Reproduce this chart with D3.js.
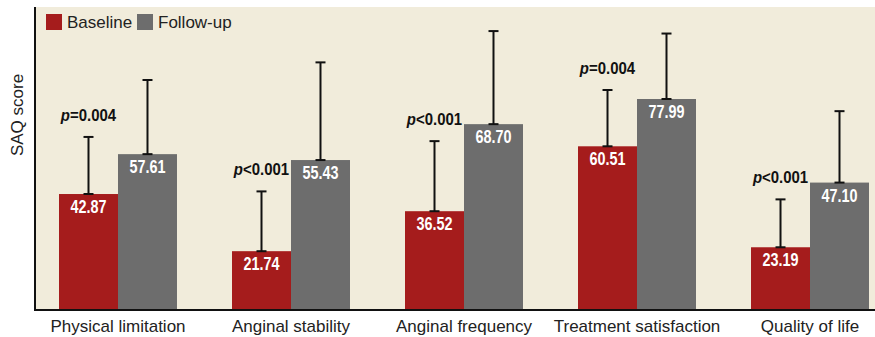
<!DOCTYPE html>
<html>
<head>
<meta charset="utf-8">
<script src="https://cdn.jsdelivr.net/npm/d3@7"></script>
<style>
    body { margin: 0; background: #fff; }
    #chart { width: 875px; height: 337px; }
    text { font-family: 'Liberation Sans', Arial, sans-serif; }
</style>
</head>
<body>
<div id="chart"></div>
<script>
// Data
var categories = ['Physical limitation', 'Anginal stability', 'Anginal frequency', 'Treatment satisfaction', 'Quality of life'];
var series = ['Baseline', 'Follow-up'];
var baseline = [42.87, 21.74, 36.52, 60.51, 23.19];
var followup = [57.61, 55.43, 68.70, 77.99, 47.10];
// standard deviations (upper whiskers only)
var baseline_sd = [21.1, 22.1, 25.9, 20.8, 17.7];
var followup_sd = [27.4, 36.1, 34.4, 24.2, 26.4];
var p_labels = ['=0.004', '<0.001', '<0.001', '=0.004', '<0.001'];

var colors = ['#a51c1c', '#6d6d6d'];

var margin = {top: 7, right: 0, bottom: 27, left: 35};
var chart_width = 875, chart_height = 337;
var width = chart_width - margin.left - margin.right;
var height = chart_height - margin.top - margin.bottom;

var svg = d3.select('#chart').append('svg')
    .attr('width', chart_width)
    .attr('height', chart_height)
    .append('g')
    .attr('transform', 'translate(' + margin.left + ',' + margin.top + ')');

// plot background
svg.append('rect')
    .attr('width', width)
    .attr('height', height)
    .attr('fill', '#f1ecdb');

var x0 = d3.scaleBand().domain(categories).range([24, 834]).paddingInner(0.318);
var x1 = d3.scaleBand().domain(series).range([0, x0.bandwidth()]);
var y = d3.scaleLinear().domain([0, 112]).range([height, 0]);

var data = categories.map(function(c, i) {
    return {
        cat: c,
        p: p_labels[i],
        vals: [
            {key: series[0], value: baseline[i], sd: baseline_sd[i]},
            {key: series[1], value: followup[i], sd: followup_sd[i]}
        ]
    };
});

var groups = svg.selectAll('g.group')
    .data(data)
    .enter().append('g')
    .attr('class', 'group')
    .attr('transform', function(d) { return 'translate(' + x0(d.cat) + ',0)'; });

var bars = groups.selectAll('g.bar')
    .data(function(d) { return d.vals; })
    .enter().append('g')
    .attr('class', 'bar');

bars.append('rect')
    .attr('x', function(d) { return x1(d.key); })
    .attr('y', function(d) { return y(d.value); })
    .attr('width', x1.bandwidth())
    .attr('height', function(d) { return height - y(d.value); })
    .attr('fill', function(d, i) { return colors[i]; });

// error bars
bars.append('line')
    .attr('x1', function(d) { return x1(d.key) + x1.bandwidth() / 2; })
    .attr('x2', function(d) { return x1(d.key) + x1.bandwidth() / 2; })
    .attr('y1', function(d) { return y(d.value); })
    .attr('y2', function(d) { return y(d.value + d.sd); })
    .attr('stroke', '#111')
    .attr('stroke-width', 2);

[0, 1].forEach(function(k) {
    bars.append('line')
        .attr('x1', function(d) { return x1(d.key) + x1.bandwidth() / 2 - 5; })
        .attr('x2', function(d) { return x1(d.key) + x1.bandwidth() / 2 + 5; })
        .attr('y1', function(d) { return y(k ? d.value + d.sd : d.value); })
        .attr('y2', function(d) { return y(k ? d.value + d.sd : d.value); })
        .attr('stroke', '#111')
        .attr('stroke-width', 2);
});

// value labels (squeezed to mimic the condensed face)
bars.append('text')
    .attr('transform', function(d) {
        return 'translate(' + (x1(d.key) + x1.bandwidth() / 2) + ',' + (y(d.value) + 19) + ') scale(0.8,1)';
    })
    .attr('text-anchor', 'middle')
    .attr('fill', '#fff')
    .attr('font-weight', 'bold')
    .attr('font-size', '18px')
    .text(function(d) { return d.value.toFixed(2); });

// p values above the baseline whisker
var ptext = groups.append('text')
    .attr('transform', function(d) {
        return 'translate(' + (x1(series[0]) + x1.bandwidth() / 2) + ',' + (y(d.vals[0].value + d.vals[0].sd) - 16) + ') scale(0.88,1)';
    })
    .attr('text-anchor', 'middle')
    .attr('font-weight', 'bold')
    .attr('font-size', '17px')
    .attr('fill', '#111');
ptext.append('tspan').attr('font-style', 'italic').text('p');
ptext.append('tspan').text(function(d) { return d.p; });

// category labels
groups.append('text')
    .attr('x', x0.bandwidth() / 2)
    .attr('y', height + 22)
    .attr('text-anchor', 'middle')
    .attr('font-size', '17px')
    .attr('fill', '#222')
    .text(function(d) { return d.cat; });

// axes lines
svg.append('line')
    .attr('x1', 0).attr('x2', 0)
    .attr('y1', 0).attr('y2', height + 1)
    .attr('stroke', '#111').attr('stroke-width', 2);
svg.append('line')
    .attr('x1', 0).attr('x2', width)
    .attr('y1', height).attr('y2', height)
    .attr('stroke', '#111').attr('stroke-width', 2);

// y label
svg.append('text')
    .attr('transform', 'rotate(-90)')
    .attr('x', -108)
    .attr('y', -12)
    .attr('text-anchor', 'middle')
    .attr('font-size', '17px')
    .attr('fill', '#222')
    .text('SAQ score');

// legend
var legend = svg.selectAll('.legend')
    .data(series)
    .enter().append('g')
    .attr('class', 'legend')
    .attr('transform', function(d, i) { return 'translate(' + (11 + i * 91) + ',7)'; });

legend.append('rect')
    .attr('width', 16)
    .attr('height', 16)
    .attr('fill', function(d, i) { return colors[i]; });

legend.append('text')
    .attr('x', 21)
    .attr('y', 14)
    .attr('font-size', '17px')
    .attr('fill', '#222')
    .text(function(d) { return d; });
</script>
</body>
</html>
